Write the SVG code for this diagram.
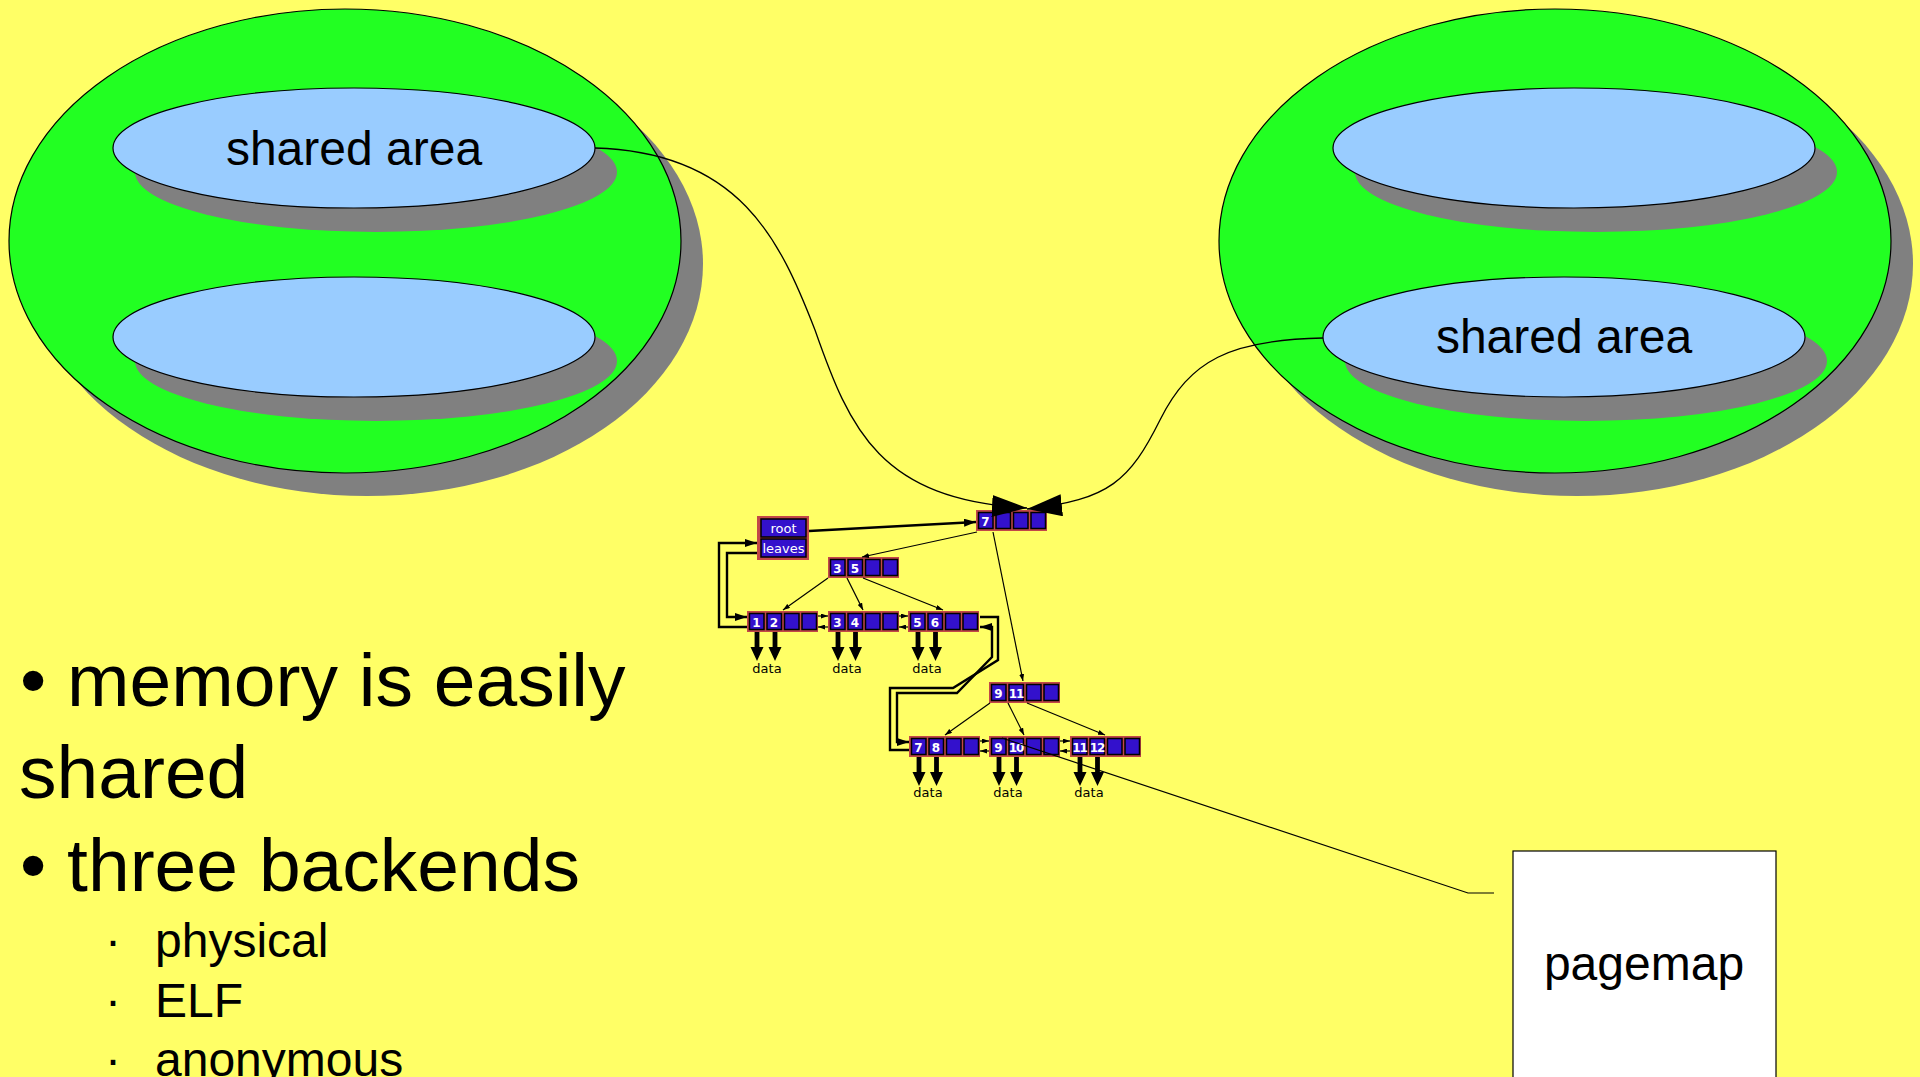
<svg xmlns="http://www.w3.org/2000/svg" xmlns:xlink="http://www.w3.org/1999/xlink" width="1920" height="1077" viewBox="0 0 1920 1077">
  <style>
    .shadow { fill: #808080; }
    .space { fill: #22ff22; stroke: #000; stroke-width: 1.2; }
    .area { fill: #99ccff; stroke: #000; stroke-width: 1.2; }
    .big { font-family: "Liberation Sans", Arial, sans-serif; fill: #000; }
    .frame { fill: #c24848; }
    .cell { fill: #3311cc; stroke: #000; stroke-width: 1.5; }
    .num { font-family: "DejaVu Sans", sans-serif; font-weight: bold; font-size: 12px; fill: #fff; text-anchor: middle; }
    .lbl { font-family: "DejaVu Sans", sans-serif; font-size: 13px; fill: #fff; text-anchor: middle; }
    .data { font-family: "DejaVu Sans", sans-serif; font-size: 13px; fill: #000; text-anchor: middle; }
    .curve { fill: none; stroke: #000; stroke-width: 1.3; }
    .thin { fill: none; stroke: #000; stroke-width: 1.2; }
    .thick { fill: none; stroke: #000; stroke-width: 2.4; }
  </style>
  <defs>
    <marker id="tri" viewBox="0 0 35 22" refX="35" refY="11" markerWidth="35" markerHeight="22" markerUnits="userSpaceOnUse" orient="auto">
      <path d="M0,0 L35,11 L0,22 Z" fill="#000"/>
    </marker>
    <marker id="arr" viewBox="0 0 12 8" refX="12" refY="4" markerWidth="12" markerHeight="8" markerUnits="userSpaceOnUse" orient="auto-start-reverse">
      <path d="M0,0 L12,4 L0,8 Z" fill="#000"/>
    </marker>
    <marker id="sm" viewBox="0 0 7 5" refX="7" refY="2.5" markerWidth="7" markerHeight="5" markerUnits="userSpaceOnUse" orient="auto">
      <path d="M0,0 L7,2.5 L0,5 Z" fill="#000"/>
    </marker>
    <!-- four-slot B-tree node -->
    <g id="slots">
      <rect class="frame" x="0" y="0" width="71" height="21"/>
      <rect class="cell" x="2.5" y="2.5" width="14.5" height="16"/>
      <rect class="cell" x="20" y="2.5" width="14.5" height="16"/>
      <rect class="cell" x="37.5" y="2.5" width="14.5" height="16"/>
      <rect class="cell" x="55" y="2.5" width="14.5" height="16"/>
    </g>
    <!-- heavy downward pointer to a data page -->
    <path id="down" d="M-2.4,0 H2.4 V15 H6.5 L0,29 L-6.5,15 H-2.4 Z" fill="#000"/>
  </defs>

  <rect width="1920" height="1077" fill="#ffff66"/>

  <!-- left address space -->
  <g id="space-left">
    <ellipse class="shadow" cx="367" cy="264" rx="336" ry="232"/>
    <ellipse class="space" cx="345" cy="241" rx="336" ry="232"/>
    <ellipse class="shadow" cx="376" cy="172" rx="241" ry="60"/>
    <ellipse class="area" cx="354" cy="148" rx="241" ry="60"/>
    <ellipse class="shadow" cx="376" cy="361" rx="241" ry="60"/>
    <ellipse class="area" cx="354" cy="337" rx="241" ry="60"/>
    <text class="big" x="354" y="165" font-size="48" text-anchor="middle">shared area</text>
  </g>

  <!-- right address space -->
  <g id="space-right">
    <ellipse class="shadow" cx="1577" cy="264" rx="336" ry="232"/>
    <ellipse class="space" cx="1555" cy="241" rx="336" ry="232"/>
    <ellipse class="shadow" cx="1596" cy="172" rx="241" ry="60"/>
    <ellipse class="area" cx="1574" cy="148" rx="241" ry="60"/>
    <ellipse class="shadow" cx="1586" cy="361" rx="241" ry="60"/>
    <ellipse class="area" cx="1564" cy="337" rx="241" ry="60"/>
    <text class="big" x="1564" y="353" font-size="48" text-anchor="middle">shared area</text>
  </g>

  <!-- bullet list -->
  <g id="bullets" class="big">
    <text x="20" y="706" font-size="75">• memory is easily</text>
    <text x="19" y="798" font-size="75">shared</text>
    <text x="20" y="891" font-size="75">• three backends</text>
    <text x="105" y="957" font-size="48">·</text>
    <text x="155" y="957" font-size="48">physical</text>
    <text x="105" y="1017" font-size="48">·</text>
    <text x="155" y="1017" font-size="48">ELF</text>
    <text x="105" y="1076" font-size="48">·</text>
    <text x="155" y="1076" font-size="48">anonymous</text>
  </g>

  <!-- pagemap box -->
  <g id="pagemap">
    <rect x="1513" y="851" width="263" height="240" fill="#fff" stroke="#000" stroke-width="1.2"/>
    <text class="big" x="1644" y="980" font-size="48" text-anchor="middle">pagemap</text>
  </g>

  <!-- tree header -->
  <g id="head">
    <rect class="frame" x="757" y="516" width="52" height="44"/>
    <rect class="cell" x="761" y="519" width="45" height="18"/>
    <rect class="cell" x="761" y="539" width="45" height="18"/>
    <text class="lbl" x="783.5" y="533">root</text>
    <text class="lbl" x="783.5" y="553">leaves</text>
  </g>

  <!-- inner nodes -->
  <g id="node-7">
    <use xlink:href="#slots" x="976" y="510"/>
    <text class="num" x="985.5" y="525.5">7</text>
  </g>
  <g id="node-3-5">
    <use xlink:href="#slots" x="828" y="557"/>
    <text class="num" x="837.5" y="572.5">3</text>
    <text class="num" x="855" y="572.5">5</text>
  </g>
  <g id="node-9-11">
    <use xlink:href="#slots" x="989" y="682"/>
    <text class="num" x="998.5" y="697.5">9</text>
    <text class="num" x="1016" y="697.5" letter-spacing="-1">11</text>
  </g>

  <!-- leaves -->
  <g id="leaf-1-2">
    <use xlink:href="#slots" x="747" y="611"/>
    <text class="num" x="756.5" y="626.5">1</text>
    <text class="num" x="774" y="626.5">2</text>
  </g>
  <g id="leaf-3-4">
    <use xlink:href="#slots" x="828" y="611"/>
    <text class="num" x="837.5" y="626.5">3</text>
    <text class="num" x="855" y="626.5">4</text>
  </g>
  <g id="leaf-5-6">
    <use xlink:href="#slots" x="908" y="611"/>
    <text class="num" x="917.5" y="626.5">5</text>
    <text class="num" x="935" y="626.5">6</text>
  </g>
  <g id="leaf-7-8">
    <use xlink:href="#slots" x="909" y="736"/>
    <text class="num" x="918.5" y="751.5">7</text>
    <text class="num" x="936" y="751.5">8</text>
  </g>
  <g id="leaf-9-10">
    <use xlink:href="#slots" x="989" y="736"/>
    <text class="num" x="998.5" y="751.5">9</text>
    <text class="num" x="1016" y="751.5" letter-spacing="-1">10</text>
  </g>
  <g id="leaf-11-12">
    <use xlink:href="#slots" x="1070" y="736"/>
    <text class="num" x="1079.5" y="751.5" letter-spacing="-1">11</text>
    <text class="num" x="1097" y="751.5" letter-spacing="-1">12</text>
  </g>

  <!-- data pages -->
  <g id="data-pages">
    <use xlink:href="#down" x="757" y="632"/><use xlink:href="#down" x="775" y="632"/>
    <use xlink:href="#down" x="838" y="632"/><use xlink:href="#down" x="855.5" y="632"/>
    <use xlink:href="#down" x="918" y="632"/><use xlink:href="#down" x="935.5" y="632"/>
    <use xlink:href="#down" x="919" y="757"/><use xlink:href="#down" x="936.5" y="757"/>
    <use xlink:href="#down" x="999" y="757"/><use xlink:href="#down" x="1016.5" y="757"/>
    <use xlink:href="#down" x="1080" y="757"/><use xlink:href="#down" x="1097.5" y="757"/>
    <text class="data" x="767" y="673">data</text>
    <text class="data" x="847" y="673">data</text>
    <text class="data" x="927" y="673">data</text>
    <text class="data" x="928" y="797">data</text>
    <text class="data" x="1008" y="797">data</text>
    <text class="data" x="1089" y="797">data</text>
  </g>

  <!-- connectors -->
  <g id="connectors">
    <path class="curve" d="M595,148 C740,152 780,240 815,330 C850,430 880,500 1027,508" marker-end="url(#tri)"/>
    <path class="curve" d="M1323,338 C1230,340 1190,360 1160,420 C1130,480 1110,500 1027,509" marker-end="url(#tri)"/>
    <path class="thin" d="M1002,738 L1468,893 H1494"/>

    <path class="thick" d="M809,531 L976,522" marker-end="url(#arr)"/>
    <path class="thick" d="M747,627 H719 V543 H757" marker-end="url(#arr)"/>
    <path class="thick" d="M757,553 H727 V617 H747" marker-end="url(#arr)"/>
    <path class="thick" d="M980,617 H998 V660 L953,688 H890 V750 H909"/>
    <path class="thick" d="M980,627 H992 V657 L957,693 H897 V742 H909" marker-start="url(#arr)" marker-end="url(#arr)"/>

    <path class="thin" d="M977,532 L862,557" marker-end="url(#sm)"/>
    <path class="thin" d="M993,532 L1023,681" marker-end="url(#sm)"/>
    <path class="thin" d="M828,578 L783,610" marker-end="url(#sm)"/>
    <path class="thin" d="M847,578 L863,610" marker-end="url(#sm)"/>
    <path class="thin" d="M863,578 L943,610" marker-end="url(#sm)"/>
    <path class="thin" d="M990,703 L945,735" marker-end="url(#sm)"/>
    <path class="thin" d="M1008,703 L1024,735" marker-end="url(#sm)"/>
    <path class="thin" d="M1027,703 L1105,735" marker-end="url(#sm)"/>

    <path class="thin" d="M818,616 H828" marker-end="url(#sm)"/>
    <path class="thin" d="M828,627 H818" marker-end="url(#sm)"/>
    <path class="thin" d="M899,616 H908" marker-end="url(#sm)"/>
    <path class="thin" d="M908,627 H899" marker-end="url(#sm)"/>
    <path class="thin" d="M980,741 H989" marker-end="url(#sm)"/>
    <path class="thin" d="M989,751 H980" marker-end="url(#sm)"/>
    <path class="thin" d="M1060,741 H1070" marker-end="url(#sm)"/>
    <path class="thin" d="M1070,751 H1060" marker-end="url(#sm)"/>
  </g>
</svg>
